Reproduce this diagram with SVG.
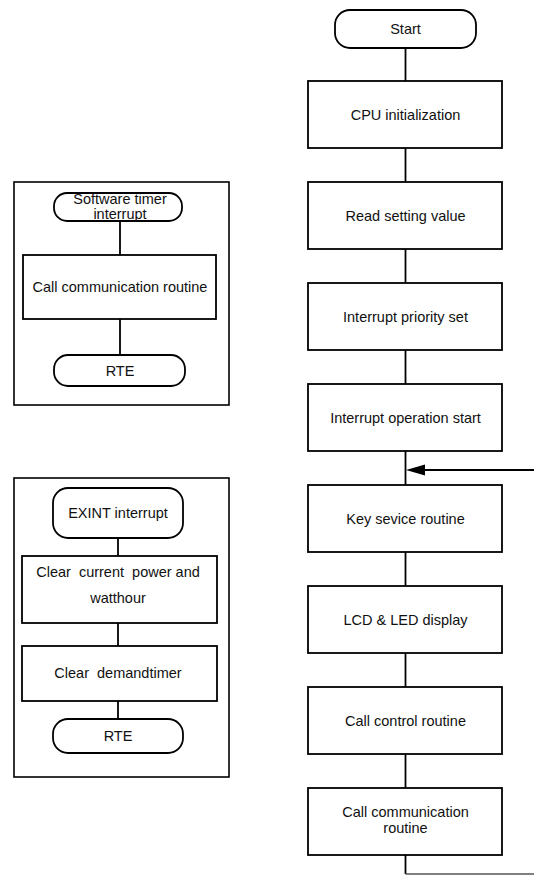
<svg xmlns="http://www.w3.org/2000/svg" width="534" height="875" viewBox="0 0 534 875">
  <style>
    .box { fill: #fff; stroke: #000; stroke-width: 1.8; }
    .frame { fill: none; stroke: #000; stroke-width: 1.6; }
    .line { fill: none; stroke: #000; stroke-width: 1.8; }
    .ret { fill: none; stroke: #555; stroke-width: 1.4; }
    .head { fill: #000; }
    text { font-family: "Liberation Sans", Arial, sans-serif; font-size: 14.5px; fill: #111; text-anchor: middle; white-space: pre; }
  </style>

  <!-- connectors -->
  <g id="connectors">
    <!-- main flow -->
    <line class="line" x1="405.5" y1="48" x2="405.5" y2="81"/>
    <line class="line" x1="405.5" y1="148" x2="405.5" y2="182"/>
    <line class="line" x1="405.5" y1="249" x2="405.5" y2="283"/>
    <line class="line" x1="405.5" y1="350" x2="405.5" y2="384"/>
    <line class="line" x1="405.5" y1="451" x2="405.5" y2="485"/>
    <line class="line" x1="405.5" y1="552" x2="405.5" y2="586"/>
    <line class="line" x1="405.5" y1="653" x2="405.5" y2="687"/>
    <line class="line" x1="405.5" y1="754" x2="405.5" y2="788"/>
    <line class="line" x1="405.5" y1="855" x2="405.5" y2="874"/>
    <!-- loop back into the key service routine -->
    <line class="ret" x1="405.5" y1="874" x2="534" y2="874"/>
    <line class="line" x1="534" y1="470" x2="425" y2="470"/>
    <path class="head" d="M406,470 L425,464.5 L425,475.5 Z"/>
    <!-- software timer interrupt -->
    <line class="line" x1="120" y1="221" x2="120" y2="255"/>
    <line class="line" x1="120" y1="319" x2="120" y2="355"/>
    <!-- EXINT interrupt -->
    <line class="line" x1="118" y1="538" x2="118" y2="556"/>
    <line class="line" x1="118" y1="623" x2="118" y2="646"/>
    <line class="line" x1="118" y1="701" x2="118" y2="719"/>
  </g>

  <!-- main routine -->
  <g id="start">
    <rect class="box" x="335" y="10" width="141" height="38" rx="15"/>
    <text x="405.5" y="34">Start</text>
  </g>
  <g id="cpu-init">
    <rect class="box" x="308" y="81" width="194" height="67"/>
    <text x="405.5" y="120">CPU initialization</text>
  </g>
  <g id="read-setting">
    <rect class="box" x="308" y="182" width="194" height="67"/>
    <text x="405.5" y="221">Read setting value</text>
  </g>
  <g id="priority-set">
    <rect class="box" x="308" y="283" width="194" height="67"/>
    <text x="405.5" y="322">Interrupt priority set</text>
  </g>
  <g id="operation-start">
    <rect class="box" x="308" y="384" width="194" height="67"/>
    <text x="405.5" y="423">Interrupt operation start</text>
  </g>
  <g id="key-service">
    <rect class="box" x="308" y="485" width="194" height="67"/>
    <text x="405.5" y="524">Key sevice routine</text>
  </g>
  <g id="display">
    <rect class="box" x="308" y="586" width="194" height="67"/>
    <text x="405.5" y="625">LCD &amp; LED display</text>
  </g>
  <g id="control">
    <rect class="box" x="308" y="687" width="194" height="67"/>
    <text x="405.5" y="726">Call control routine</text>
  </g>
  <g id="communication">
    <rect class="box" x="308" y="788" width="194" height="67"/>
    <text x="405.5" y="817">Call communication</text>
    <text x="405.5" y="833">routine</text>
  </g>

  <!-- software timer interrupt routine -->
  <g id="timer-frame">
    <rect class="frame" x="14" y="182" width="215" height="223"/>
  </g>
  <g id="timer-interrupt">
    <rect class="box" x="54" y="193" width="128" height="28" rx="13"/>
    <text x="120" y="204">Software timer</text>
    <text x="120" y="219">interrupt</text>
  </g>
  <g id="timer-call-comm">
    <rect class="box" x="23" y="255" width="193" height="64"/>
    <text x="120" y="292">Call communication routine</text>
  </g>
  <g id="timer-rte">
    <rect class="box" x="54" y="355" width="131" height="31" rx="14"/>
    <text x="120" y="376">RTE</text>
  </g>

  <!-- external interrupt routine -->
  <g id="exint-frame">
    <rect class="frame" x="14" y="478" width="215" height="299"/>
  </g>
  <g id="exint-interrupt">
    <rect class="box" x="53" y="488" width="130" height="50" rx="15"/>
    <text x="118" y="518">EXINT interrupt</text>
  </g>
  <g id="clear-power">
    <rect class="box" x="22" y="556" width="195" height="67"/>
    <text x="118" y="577">Clear  current  power and</text>
    <text x="118" y="603">watthour</text>
  </g>
  <g id="clear-demand">
    <rect class="box" x="22" y="646" width="195" height="55"/>
    <text x="118" y="678">Clear  demandtimer</text>
  </g>
  <g id="exint-rte">
    <rect class="box" x="53" y="719" width="130" height="34" rx="15"/>
    <text x="118" y="741">RTE</text>
  </g>
</svg>
